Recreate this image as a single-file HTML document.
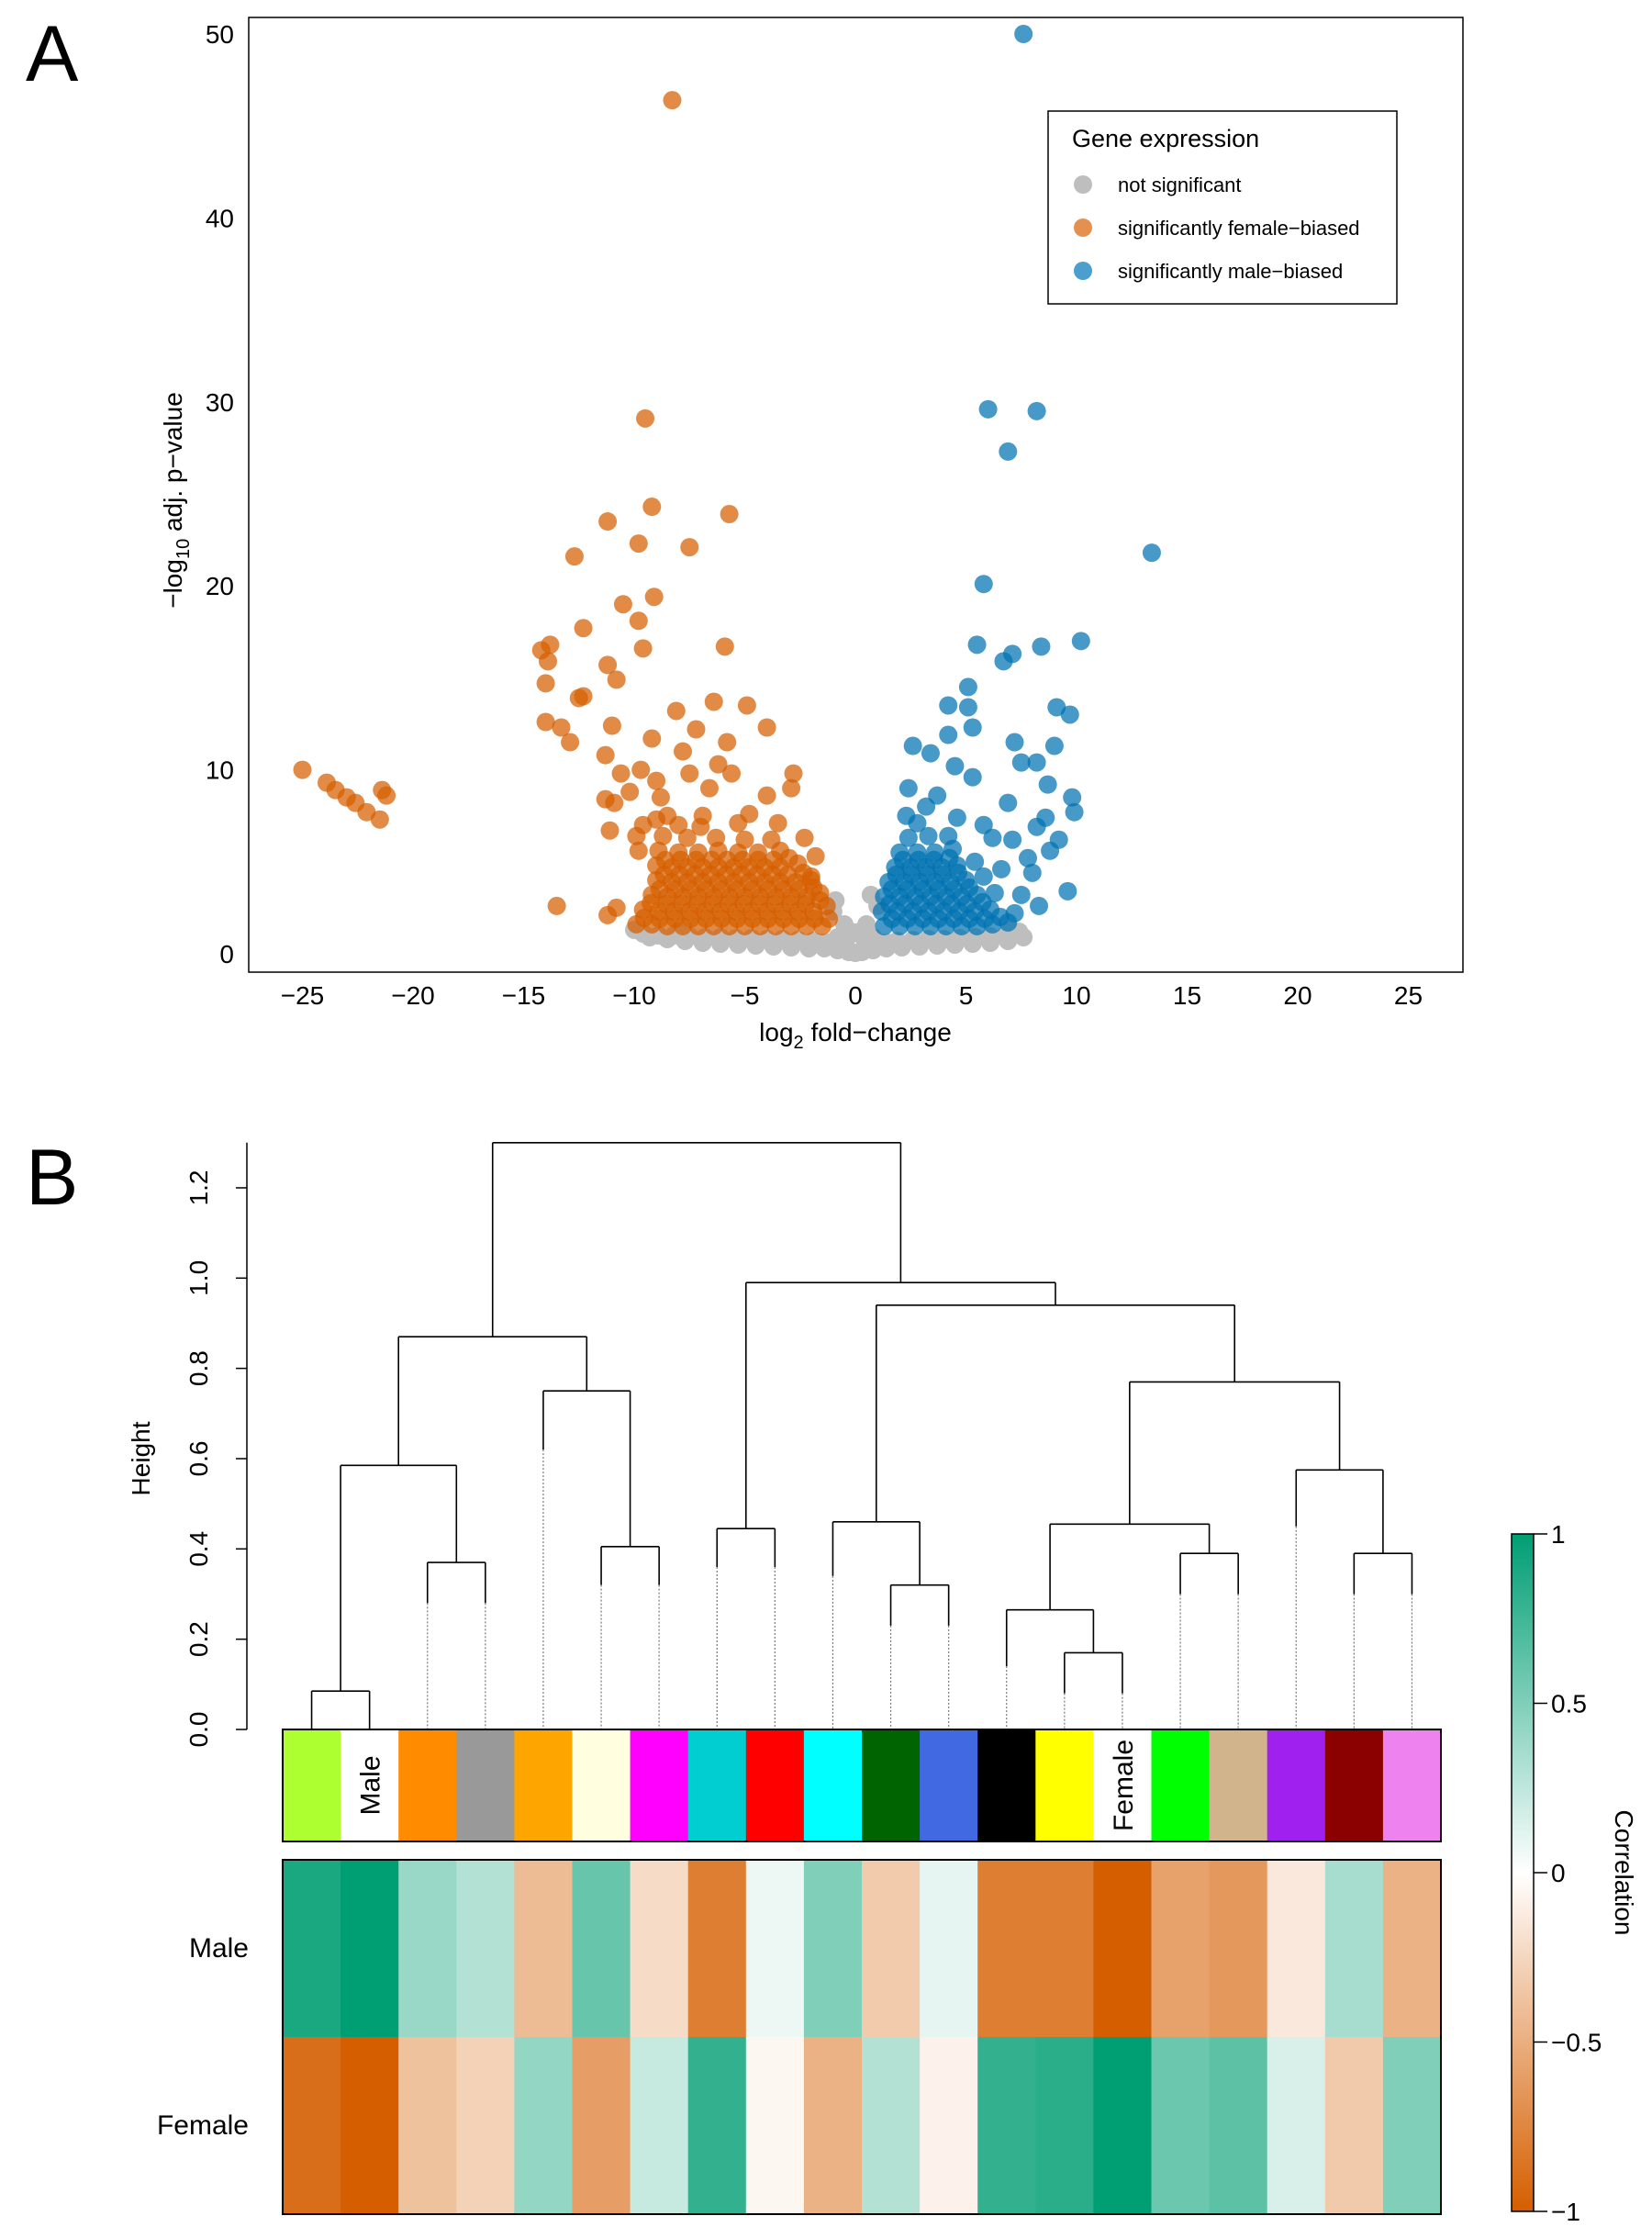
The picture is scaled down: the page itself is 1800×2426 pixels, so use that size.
<!DOCTYPE html>
<html><head><meta charset="utf-8"><style>
body{margin:0;background:#fff}
svg{display:block;font-family:"Liberation Sans",sans-serif}
</style></head><body>
<svg id="fig" width="1800" height="2426" viewBox="0 0 1800 2426" xmlns="http://www.w3.org/2000/svg">
<text x="28" y="88" font-size="86">A</text>
<text x="28" y="1312" font-size="86">B</text>
<g id="volcano"></g>
<g id="dendro"></g>
</svg>
<script>
// ---------- Volcano data ----------
const xTicks=[-25,-20,-15,-10,-5,0,5,10,15,20,25];
const yTicks=[0,10,20,30,40,50];
const grayPts=[[-10,1.3],[-9.3,0.9],[-8.5,0.8],[-7.7,0.7],[-6.9,0.6],[-6.1,0.55],[-5.3,0.5],[-4.5,0.45],[-3.7,0.4],[-2.9,0.35],[-2.1,0.3],[-1.4,0.3],[-0.8,0.2],[-0.3,0.1],[0,0.05],[0.3,0.1],[0.8,0.2],[1.4,0.3],[2.1,0.35],[2.9,0.4],[3.7,0.45],[4.5,0.5],[5.3,0.55],[6.1,0.6],[6.9,0.7],[7.6,0.9],[-0.8,0.9],[-0.5,1.6],[0.5,1.6],[0.8,0.9],[-1,2.3],[1,2.6],[0.7,3.2],[-0.9,2.9],[-1.5,0.6],[1.5,0.6],[-8,1.2],[7,1.3],
[-9.6,1.1],[-8.9,1.0],[-8.2,1.0],[-7.5,0.95],[-6.8,0.9],[-6.1,0.9],[-5.4,0.85],[-4.7,0.85],[-4.0,0.8],[-3.3,0.8],[-2.6,0.75],[-1.9,0.7],[-1.2,0.6],[-0.6,0.5],[0.6,0.5],[1.2,0.6],[1.9,0.7],[2.6,0.75],[3.3,0.8],[4.0,0.8],[4.7,0.85],[5.4,0.9],[6.1,0.95],[6.8,1.0],[7.4,1.2],[-0.4,0.8],[0.4,0.8],[-0.2,1.2],[0.2,1.2]];
const femalePts=[[-8.28,46.4],[-9.5,29.1],[-9.2,24.3],[-5.7,23.9],[-11.2,23.5],[-9.8,22.3],[-7.5,22.1],[-12.7,21.6],[-9.1,19.4],[-10.5,19.0],[-12.3,17.7],[-9.8,18.1],[-14.2,16.5],[-13.8,16.8],[-9.6,16.6],[-5.9,16.7],[-13.9,15.9],[-11.2,15.7],[-14.0,14.7],[-10.8,14.9],[-12.3,14.0],[-12.5,13.9],[-14.0,12.6],[-13.3,12.3],[-12.9,11.5],[-11.0,12.4],[-8.1,13.2],[-6.4,13.7],[-4.9,13.5],[-4.0,12.3],[-5.8,11.5],[-9.2,11.7],[-11.3,10.8],[-9.7,10.0],[-2.9,9.0],[-2.8,9.8],[-13.5,2.6],
[-25,10.0],[-23.9,9.3],[-23.5,8.9],[-23.0,8.5],[-22.6,8.2],[-22.1,7.7],[-21.5,7.3],[-21.4,8.9],[-21.2,8.6],
[-10.6,9.8],[-9,9.4],[-7.5,9.8],[-5.6,9.8],[-6.6,9],[-4,8.6],[-8.5,7.5],[-6.9,7.5],[-5.3,7.1],[-3.5,7.1],[-11.1,6.7],[-9.8,5.6],[-10.8,2.5],[-11.2,2.1],[-11.3,8.4],[-10.2,8.8],[-8.8,8.5],[-7.8,11.0],[-7.2,12.2],[-6.2,10.3],[-9.6,7.0],[-4.8,7.6],[-2.3,6.3],[-1.8,5.3],[-2.0,4.2],[-10.9,8.2],[-9.9,6.4],
[-9.9,1.6],[-9.2,1.6],[-8.5,1.5],[-7.8,1.5],[-7.1,1.5],[-6.4,1.5],[-5.7,1.5],[-5.0,1.5],[-4.3,1.5],[-3.6,1.5],[-2.9,1.5],[-2.2,1.5],[-1.5,1.5],[-1.2,1.9],
[-9.55,1.95],[-8.85,1.9],[-8.15,1.9],[-7.45,1.9],[-6.75,1.9],[-6.05,1.9],[-5.35,1.9],[-4.65,1.9],[-3.95,1.9],[-3.25,1.9],[-2.55,1.9],[-1.85,1.9],
[-9.6,2.4],[-8.9,2.3],[-8.2,2.3],[-7.5,2.3],[-6.8,2.3],[-6.1,2.3],[-5.4,2.3],[-4.7,2.3],[-4.0,2.3],[-3.3,2.3],[-2.6,2.3],[-1.9,2.3],[-1.3,2.6],
[-9.25,2.75],[-8.55,2.7],[-7.85,2.7],[-7.15,2.7],[-6.45,2.7],[-5.75,2.7],[-5.05,2.7],[-4.35,2.7],[-3.65,2.7],[-2.95,2.7],[-2.25,2.7],[-1.6,2.9],
[-9.2,3.2],[-8.5,3.1],[-7.8,3.1],[-7.1,3.1],[-6.4,3.1],[-5.7,3.1],[-5.0,3.1],[-4.3,3.1],[-3.6,3.1],[-2.9,3.1],[-2.2,3.1],[-1.6,3.3],
[-8.85,3.5],[-8.15,3.5],[-7.45,3.5],[-6.75,3.5],[-6.05,3.5],[-5.35,3.5],[-4.65,3.5],[-3.95,3.5],[-3.25,3.5],[-2.55,3.5],[-1.9,3.6],
[-9.0,4.0],[-8.3,3.9],[-7.6,3.9],[-6.9,3.9],[-6.2,3.9],[-5.5,3.9],[-4.8,3.9],[-4.1,3.9],[-3.4,3.9],[-2.7,3.9],[-2.0,4.0],
[-8.65,4.3],[-7.95,4.3],[-7.25,4.3],[-6.55,4.3],[-5.85,4.3],[-5.15,4.3],[-4.45,4.3],[-3.75,4.3],[-3.05,4.3],[-2.35,4.4],
[-9.0,4.8],[-8.3,4.7],[-7.6,4.7],[-6.9,4.7],[-6.2,4.7],[-5.5,4.7],[-4.8,4.7],[-4.1,4.7],[-3.4,4.7],[-2.6,4.9],
[-8.6,5.1],[-7.9,5.1],[-7.2,5.1],[-6.5,5.1],[-5.8,5.1],[-5.1,5.1],[-4.4,5.1],[-3.7,5.1],[-3.0,5.2],
[-8.9,5.6],[-8.0,5.5],[-7.1,5.5],[-6.2,5.6],[-5.3,5.5],[-4.4,5.5],[-3.4,5.6],[-8.7,6.4],[-7.6,6.3],[-6.3,6.3],[-5.0,6.2],[-3.8,6.2],[-9.0,7.3],[-8.0,7.0],[-7.0,6.9]];
const malePts=[[7.6,50],[6.0,29.6],[8.2,29.5],[6.9,27.3],[13.4,21.8],[5.8,20.1],[10.2,17.0],[5.5,16.8],[7.1,16.3],[8.4,16.7],[6.7,15.9],[5.1,14.5],[5.1,13.4],[4.2,13.5],[9.1,13.4],[9.7,13.0],[5.3,12.3],[4.2,11.9],[2.6,11.3],[7.2,11.5],[9.0,11.3],[3.4,10.9],[8.2,10.4],[7.5,10.4],[4.5,10.2],[8.7,9.2],[9.8,8.5],[6.9,8.2],[9.9,7.7],[8.2,6.9],[9.2,6.2],[9.6,3.4],[2.4,9.0],[3.7,8.6],[5.3,9.6],[6.2,6.3],[7.8,5.2],[7.5,3.2],[2.3,7.5],[3.2,8.0],[4.6,7.4],[5.8,7.0],[7.1,6.2],[8.6,7.4],[8.0,4.4],[8.8,5.6],[7.2,2.2],[8.3,2.6],[6.6,4.6],
[1.3,1.5],[2.0,1.5],[2.7,1.5],[3.4,1.5],[4.1,1.5],[4.8,1.5],[5.5,1.5],[6.2,1.6],[6.9,1.7],
[1.65,1.9],[2.35,1.9],[3.05,1.9],[3.75,1.9],[4.45,1.9],[5.15,1.9],[5.85,1.9],[6.55,2.0],
[1.2,2.3],[1.9,2.3],[2.6,2.3],[3.3,2.3],[4.0,2.3],[4.7,2.3],[5.4,2.3],[6.1,2.4],
[1.55,2.7],[2.25,2.7],[2.95,2.7],[3.65,2.7],[4.35,2.7],[5.05,2.7],[5.75,2.8],
[1.3,3.1],[2.0,3.1],[2.7,3.1],[3.4,3.1],[4.1,3.1],[4.8,3.1],[5.5,3.2],[6.3,3.3],
[1.65,3.5],[2.35,3.5],[3.05,3.5],[3.75,3.5],[4.45,3.5],[5.15,3.6],
[1.5,3.9],[2.2,3.9],[2.9,3.9],[3.6,3.9],[4.3,3.9],[5.0,4.0],[5.8,4.2],
[1.85,4.3],[2.55,4.3],[3.25,4.3],[3.95,4.3],[4.65,4.4],
[1.8,4.7],[2.5,4.7],[3.2,4.7],[3.9,4.7],[4.6,4.8],[5.4,5.0],
[2.15,5.1],[2.85,5.1],[3.55,5.1],[4.25,5.2],
[2.0,5.5],[2.8,5.5],[3.6,5.5],[4.4,5.7],[2.4,6.3],[3.3,6.4],[4.2,6.4],[2.8,7.1]];

// ---------- Dendrogram / heatmap data ----------
const leafColors=["#adff2f","#ffffff","#ff8c00","#999999","#ffa500","#ffffe0","#ff00ff","#00ced1","#ff0000","#00ffff","#006400","#4169e1","#000000","#ffff00","#ffffff","#00ff00","#d2b48c","#a020f0","#8b0000","#ee82ee"];
const leafLabels=["","Male","","","","","","","","","","","","","Female","","","","",""];
const merges=[[-1,-2,0.085],[-14,-15,0.17],[-13,2,0.265],[-11,-12,0.32],[-3,-4,0.37],[-16,-17,0.39],[-19,-20,0.39],[-6,-7,0.405],[-8,-9,0.445],[-10,4,0.46],[3,6,0.455],[-18,7,0.575],[1,5,0.585],[-5,8,0.75],[11,12,0.77],[13,14,0.87],[10,15,0.94],[9,17,0.99],[16,18,1.3]];
const leafSolid=[0,0,0.28,0.28,0.62,0.32,0.32,0.36,0.36,0.34,0.23,0.23,0.14,0.08,0.08,0.3,0.3,0.45,0.3,0.3];
const heightTicks=[0,0.2,0.4,0.6,0.8,1.0,1.2];
const rowNames=["Male","Female"];
const maleCorr=[0.9,1.0,0.4,0.3,-0.42,0.6,-0.22,-0.8,0.07,0.5,-0.32,0.1,-0.8,-0.8,-1.0,-0.58,-0.64,-0.14,0.35,-0.48];
const femaleCorr=[-0.9,-1.0,-0.38,-0.28,0.42,-0.6,0.22,0.8,-0.05,-0.48,0.3,-0.08,0.8,0.84,1.0,0.58,0.64,0.15,-0.33,0.5];
const cbTicks=[1,0.5,0,-0.5,-1];
const cbTickLabels=["1","0.5","0","\u22120.5","\u22121"];

const NS="http://www.w3.org/2000/svg";
function mk(parent,tag,attrs,text){const e=document.createElementNS(NS,tag);for(const k in attrs)e.setAttribute(k,attrs[k]);if(text!==undefined)e.textContent=text;parent.appendChild(e);return e;}
const fmt=v=>v<0?"\u2212"+Math.abs(v):String(v);

// ---------- Volcano ----------
const V=document.getElementById('volcano');
const px0=271,px1=1594,py0=19,py1=1059;
const sx=v=>932+v*24.1, sy=v=>1039-v*20.04;
let r=mk(V,'rect',{x:px0,y:py0,width:px1-px0,height:py1-py0,fill:'none',stroke:'#000','stroke-width':1.5});


xTicks.forEach(t=>{const e=mk(V,'text',{x:sx(t),y:1094,'font-size':28,'text-anchor':'middle'},fmt(t));

});
yTicks.forEach(t=>{const e=mk(V,'text',{x:255,y:sy(t)+10,'font-size':28,'text-anchor':'end'},String(t));

});
let xl=mk(V,'text',{x:932,y:1134,'font-size':28,'text-anchor':'middle'});
xl.innerHTML='log<tspan font-size="20" dy="8">2</tspan><tspan dy="-8"> fold\u2212change</tspan>';


let yl=mk(V,'text',{x:0,y:0,'font-size':28,'text-anchor':'middle',transform:'translate(198,545) rotate(-90)'});
yl.innerHTML='\u2212log<tspan font-size="20" dy="8">10</tspan><tspan dy="-8">  adj. p\u2212value</tspan>';


grayPts.forEach(p=>{const c=mk(V,'circle',{cx:sx(p[0]),cy:sy(p[1]),r:10,fill:'#bebebe'});

});
femalePts.forEach(p=>{const c=mk(V,'circle',{cx:sx(p[0]),cy:sy(p[1]),r:10,fill:'#d55e00','fill-opacity':0.72});

});
malePts.forEach(p=>{const c=mk(V,'circle',{cx:sx(p[0]),cy:sy(p[1]),r:10,fill:'#0072b2','fill-opacity':0.72});

});
const L=mk(V,'g',{});


mk(L,'rect',{x:1142,y:121,width:380,height:210,fill:'#fff',stroke:'#000','stroke-width':1.5});
mk(L,'text',{x:1168,y:160,'font-size':27},'Gene expression');
[['not significant','#bebebe'],['significantly female\u2212biased','#e69050'],['significantly male\u2212biased','#4b9fcf']].forEach((it,i)=>{
const y=201+i*47;const c=mk(L,'circle',{cx:1180,cy:y,r:10,fill:it[1]});


const t=mk(L,'text',{x:1218,y:y+8,'font-size':22},it[0]);

});

// ---------- Dendrogram ----------
const D=document.getElementById('dendro');
const cx0=308,cw=63.1,hy=h=>1884-h*491.7,lx=i=>cx0+cw*(i+0.5);
let ax=mk(D,'line',{x1:269,x2:269,y1:hy(1.3),y2:hy(0),stroke:'#000','stroke-width':1.5});


heightTicks.forEach(t=>{mk(D,'line',{x1:257,x2:269,y1:hy(t),y2:hy(t),stroke:'#000','stroke-width':1.5});
const e=mk(D,'text',{x:0,y:0,'font-size':28,'text-anchor':'middle',transform:`translate(226,${hy(t)}) rotate(-90)`},t.toFixed(1));

});
let ht=mk(D,'text',{x:0,y:0,'font-size':28,'text-anchor':'middle',transform:`translate(163,${hy(0.6)}) rotate(-90)`},'Height');


const pos=[];
function node(id){if(id<0){return {x:lx(-id-1),h:null,leaf:-id-1};}return pos[id-1];}
merges.forEach((m,k)=>{const a=node(m[0]),b=node(m[1]);const h=m[2];
[a,b].forEach(n=>{const bottom=n.leaf!==undefined?leafSolid[n.leaf]:n.h;
const l=mk(D,'line',{x1:n.x,x2:n.x,y1:hy(h),y2:hy(bottom),stroke:'#000','stroke-width':1.6});


if(n.leaf!==undefined&&bottom>0){const d=mk(D,'line',{x1:n.x,x2:n.x,y1:hy(bottom),y2:hy(0),stroke:'#777','stroke-width':1.2,'stroke-dasharray':'2,2'});

}});
const l=mk(D,'line',{x1:a.x,x2:b.x,y1:hy(h),y2:hy(h),stroke:'#000','stroke-width':1.6});


pos.push({x:(a.x+b.x)/2,h:h});});
leafColors.forEach((c,i)=>{const e=mk(D,'rect',{x:cx0+cw*i,y:1884,width:cw+0.5,height:122,fill:c});


if(leafLabels[i]){const t=mk(D,'text',{x:0,y:0,'font-size':30,'text-anchor':'middle',transform:`translate(${lx(i)+11},1945) rotate(-90)`},leafLabels[i]);

}});
mk(D,'rect',{x:cx0,y:1884,width:cw*20,height:122,fill:'none',stroke:'#000','stroke-width':2});
function col(v){const a=[213,94,0],w=[255,255,255],g=[0,158,115];const t=Math.min(1,Math.abs(v)),e=v<0?a:g;
return `rgb(${[0,1,2].map(k=>Math.round(w[k]+(e[k]-w[k])*t)).join(',')})`;}
[maleCorr,femaleCorr].forEach((row,ri)=>{row.forEach((v,i)=>{const e=mk(D,'rect',{x:cx0+cw*i,y:2026+ri*193,width:cw+0.5,height:193,fill:col(v)});

});
const t=mk(D,'text',{x:271,y:2026+ri*193+106,'font-size':30,'text-anchor':'end'},rowNames[ri]);

});
mk(D,'rect',{x:cx0,y:2026,width:cw*20,height:386,fill:'none',stroke:'#000','stroke-width':2});
const defs=mk(D,'defs',{});const gr=mk(defs,'linearGradient',{id:'cbg',x1:0,y1:0,x2:0,y2:1});
mk(gr,'stop',{offset:'0','stop-color':'#009e73'});mk(gr,'stop',{offset:'0.5','stop-color':'#fff'});mk(gr,'stop',{offset:'1','stop-color':'#d55e00'});
const cby=v=>2040-v*369;
let cb=mk(D,'rect',{x:1647,y:cby(1),width:24,height:cby(-1)-cby(1),fill:'url(#cbg)',stroke:'#000','stroke-width':1.5});


cbTicks.forEach((v,i)=>{mk(D,'line',{x1:1671,x2:1686,y1:cby(v),y2:cby(v),stroke:'#000','stroke-width':1.5});
const t=mk(D,'text',{x:1690,y:cby(v)+10,'font-size':28},cbTickLabels[i]);

});
let cl=mk(D,'text',{x:0,y:0,'font-size':28,'text-anchor':'middle',transform:`translate(1760,2040) rotate(90)`},'Correlation');


</script>
</body></html>
